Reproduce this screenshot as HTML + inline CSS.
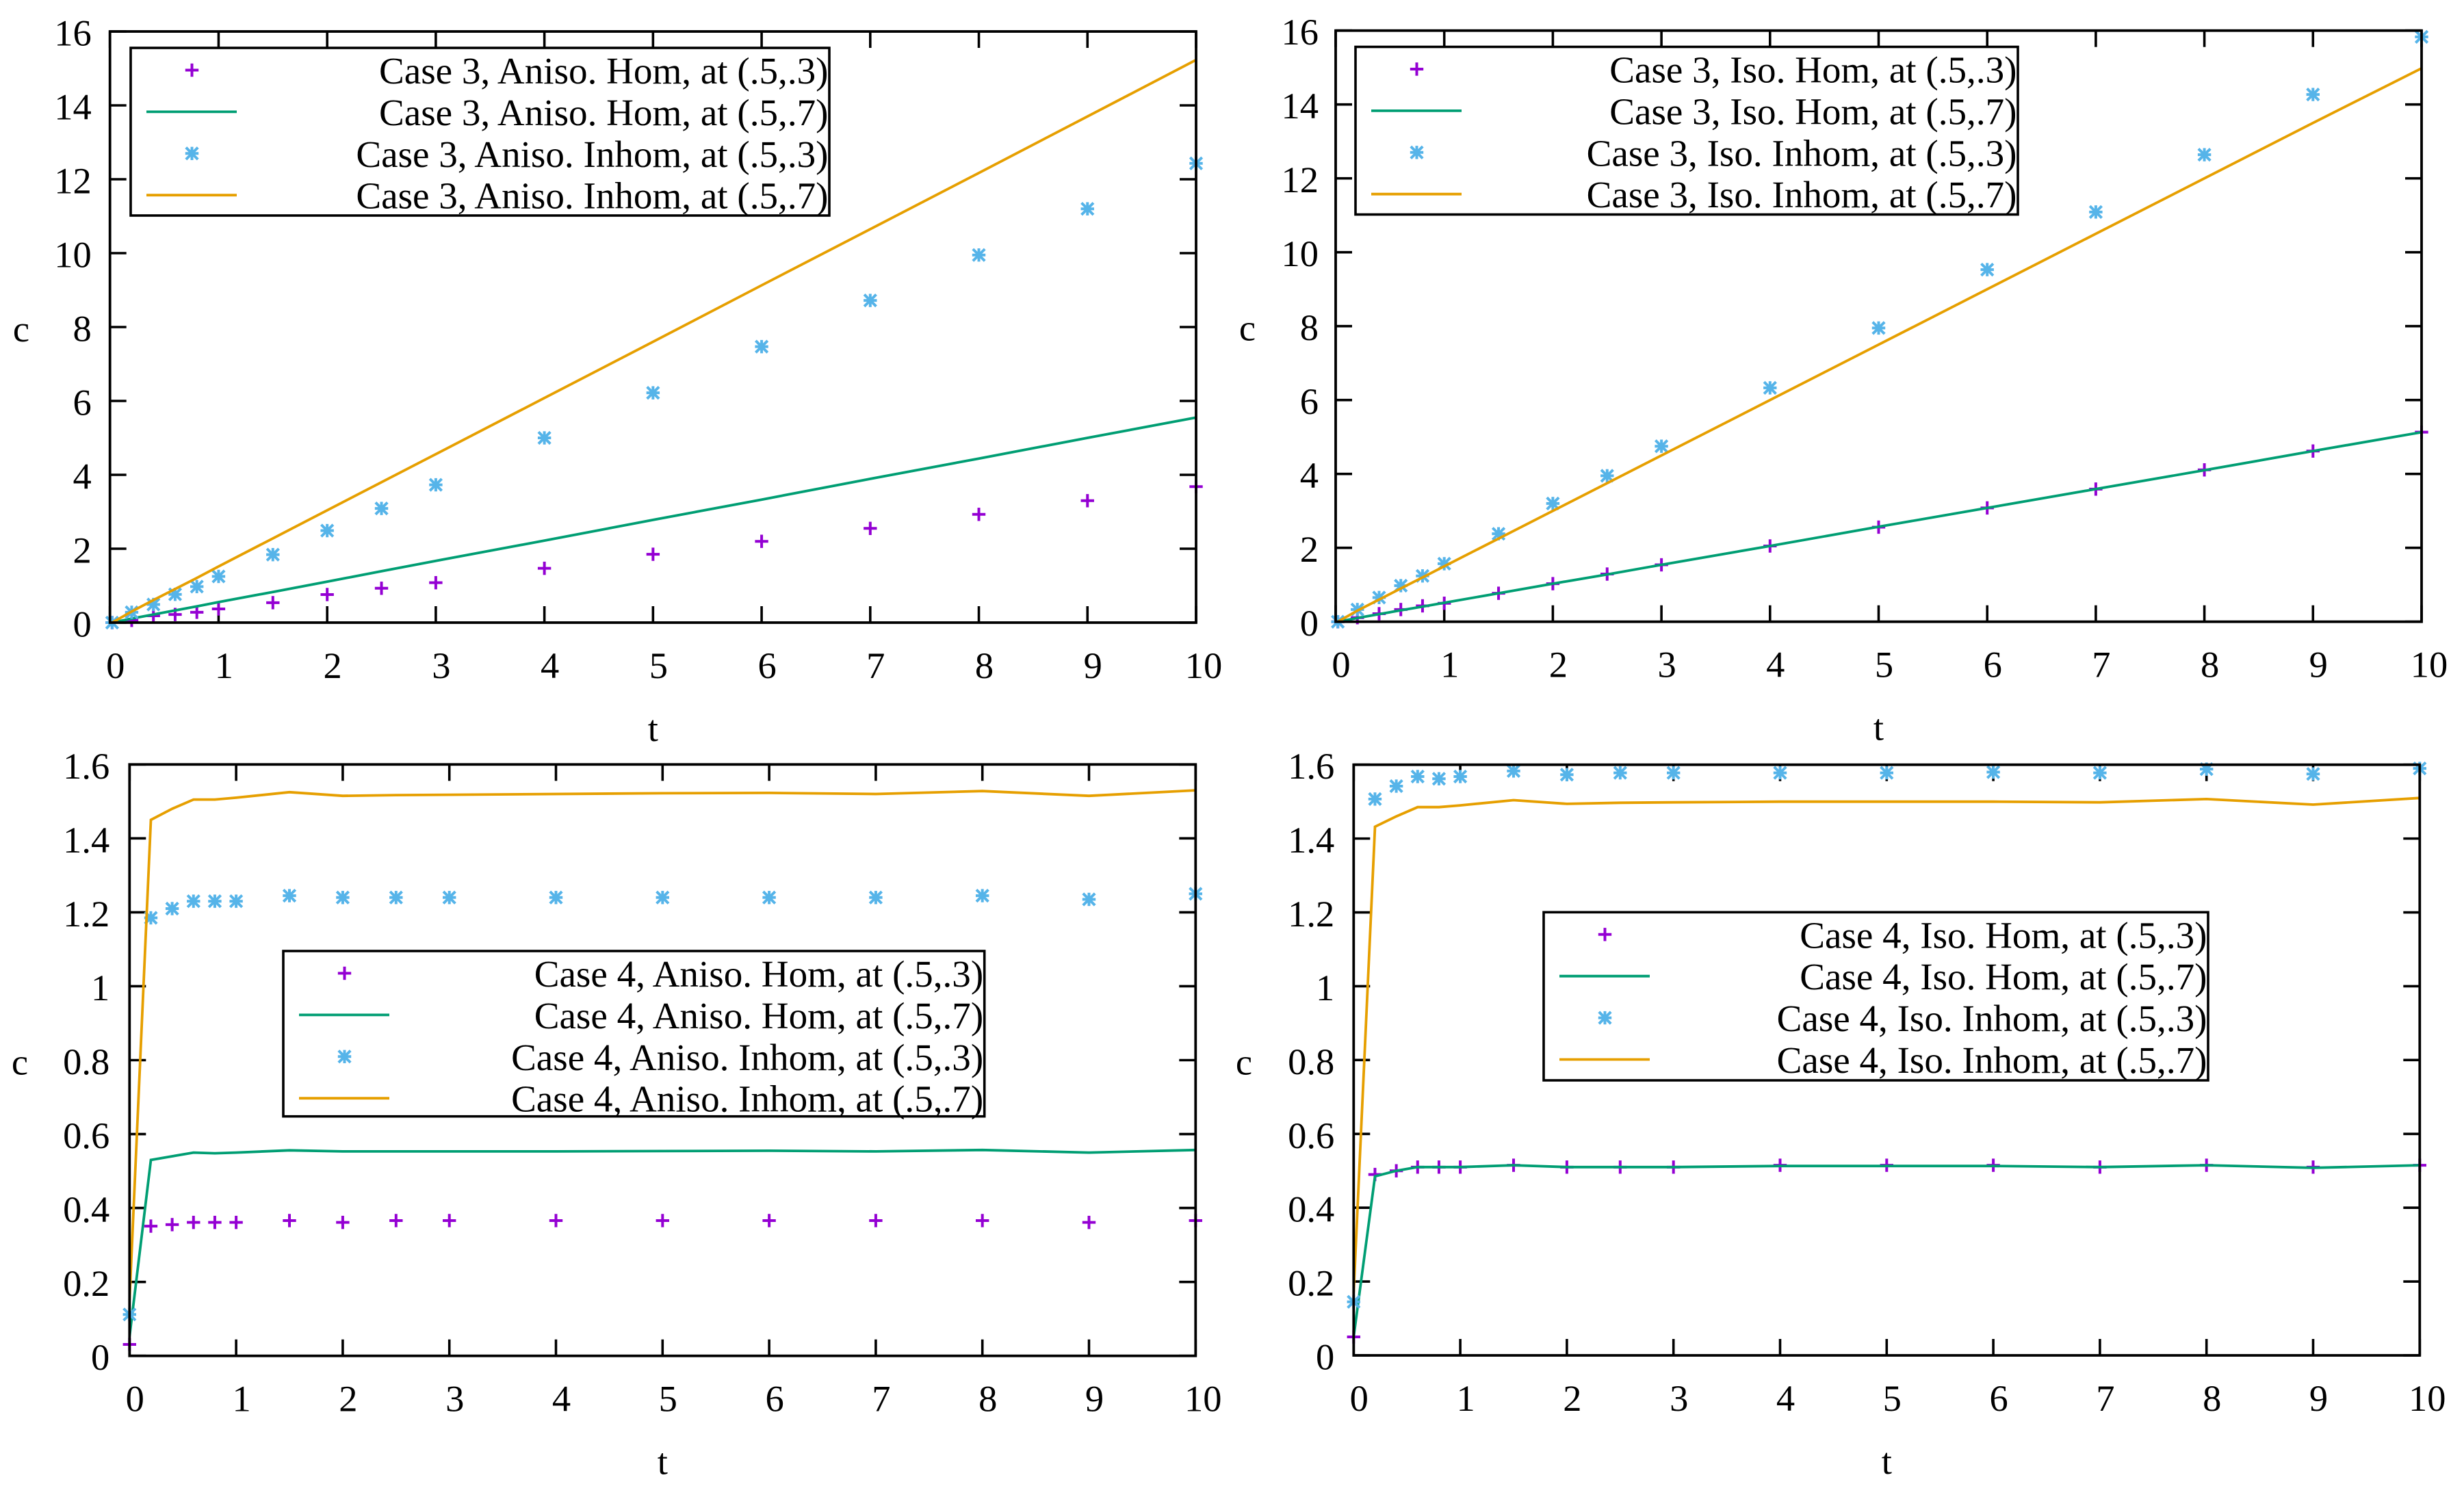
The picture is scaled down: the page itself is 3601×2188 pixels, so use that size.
<!DOCTYPE html>
<html lang="en">
<head>
<meta charset="utf-8">
<title>Case 3 and Case 4 concentration charts</title>
<style>
html,body{margin:0;padding:0;background:#fff;}
svg{display:block;}
text{font-family:"Liberation Serif","Times New Roman",serif;font-size:54.5px;fill:#000;}
text.legend-text{font-size:55.1px;}
</style>
</head>
<body>
<svg id="figure" xmlns="http://www.w3.org/2000/svg" width="3601" height="2188" viewBox="0 0 3601 2188"></svg>
<script>
// ---- shared data ----
const times = [0.02, 0.2, 0.4, 0.6, 0.8, 1, 1.5, 2, 2.5, 3, 4, 5, 6, 7, 8, 9, 10];
const timesCase4 = [0, 0.2, 0.4, 0.6, 0.8, 1, 1.5, 2, 2.5, 3, 4, 5, 6, 7, 8, 9, 10];
const xTickLabels = ['0', '1', '2', '3', '4', '5', '6', '7', '8', '9', '10'];
const yTicksCase3 = ['0', '2', '4', '6', '8', '10', '12', '14', '16'];
const yTicksCase4 = ['0', '0.2', '0.4', '0.6', '0.8', '1', '1.2', '1.4', '1.6'];

// ---- Case 3, Aniso ----
const aniso3HomPoints = [0, 0.06, 0.185, 0.22, 0.28, 0.37, 0.54, 0.76, 0.93, 1.08, 1.47, 1.85, 2.2, 2.55, 2.93, 3.3, 3.68];
const aniso3HomLine = [0, 0.11, 0.22, 0.33, 0.44, 0.555, 0.83, 1.11, 1.39, 1.67, 2.22, 2.78, 3.33, 3.89, 4.44, 5.0, 5.55];
const aniso3InhomPoints = [0, 0.28, 0.49, 0.765, 0.975, 1.25, 1.84, 2.49, 3.09, 3.73, 5.0, 6.22, 7.47, 8.72, 9.95, 11.2, 12.43];
const aniso3InhomLine = [0, 0.3, 0.61, 0.91, 1.21, 1.52, 2.28, 3.04, 3.8, 4.56, 6.08, 7.6, 9.13, 10.65, 12.17, 13.7, 15.23];
const aniso3Labels = ['Case 3, Aniso. Hom, at (.5,.3)', 'Case 3, Aniso. Hom, at (.5,.7)', 'Case 3, Aniso. Inhom, at (.5,.3)', 'Case 3, Aniso. Inhom, at (.5,.7)'];

// ---- Case 3, Iso ----
const iso3HomPoints = [0, 0.11, 0.217, 0.33, 0.43, 0.5, 0.77, 1.03, 1.29, 1.54, 2.05, 2.56, 3.08, 3.59, 4.11, 4.62, 5.13];
const iso3HomLine = [0, 0.1, 0.205, 0.31, 0.41, 0.513, 0.77, 1.03, 1.28, 1.54, 2.05, 2.57, 3.08, 3.59, 4.1, 4.62, 5.13];
const iso3InhomPoints = [0, 0.33, 0.655, 0.976, 1.24, 1.57, 2.38, 3.2, 3.95, 4.75, 6.33, 7.95, 9.53, 11.09, 12.64, 14.27, 15.83];
const iso3InhomLine = [0, 0.3, 0.6, 0.9, 1.2, 1.5, 2.25, 3.0, 3.75, 4.5, 6.0, 7.5, 9.0, 10.5, 12.0, 13.5, 14.98];
const iso3Labels = ['Case 3, Iso. Hom, at (.5,.3)', 'Case 3, Iso. Hom, at (.5,.7)', 'Case 3, Iso. Inhom, at (.5,.3)', 'Case 3, Iso. Inhom, at (.5,.7)'];

// ---- Case 4, Aniso ----
const aniso4HomPoints = [0.031, 0.351, 0.355, 0.361, 0.361, 0.361, 0.366, 0.361, 0.366, 0.366, 0.366, 0.366, 0.366, 0.366, 0.366, 0.361, 0.366];
const aniso4HomLine = [0.052, 0.53, 0.54, 0.55, 0.548, 0.55, 0.556, 0.553, 0.553, 0.553, 0.553, 0.554, 0.555, 0.553, 0.557, 0.55, 0.557];
const aniso4InhomPoints = [0.112, 1.185, 1.21, 1.23, 1.23, 1.23, 1.245, 1.24, 1.24, 1.24, 1.24, 1.24, 1.24, 1.24, 1.245, 1.235, 1.25];
const aniso4InhomLine = [0.151, 1.45, 1.48, 1.505, 1.505, 1.51, 1.525, 1.515, 1.517, 1.518, 1.52, 1.522, 1.523, 1.52, 1.528, 1.515, 1.53];
const aniso4Labels = ['Case 4, Aniso. Hom, at (.5,.3)', 'Case 4, Aniso. Hom, at (.5,.7)', 'Case 4, Aniso. Inhom, at (.5,.3)', 'Case 4, Aniso. Inhom, at (.5,.7)'];

// ---- Case 4, Iso ----
const iso4HomPoints = [0.05, 0.49, 0.5, 0.51, 0.51, 0.51, 0.515, 0.51, 0.51, 0.51, 0.515, 0.515, 0.515, 0.51, 0.515, 0.51, 0.515];
const iso4HomLine = [0.05, 0.485, 0.5, 0.51, 0.51, 0.51, 0.515, 0.51, 0.51, 0.51, 0.513, 0.513, 0.513, 0.51, 0.515, 0.508, 0.515];
const iso4InhomPoints = [0.145, 1.507, 1.542, 1.568, 1.562, 1.568, 1.583, 1.573, 1.578, 1.578, 1.578, 1.578, 1.58, 1.578, 1.588, 1.575, 1.59];
const iso4InhomLine = [0.17, 1.432, 1.46, 1.485, 1.485, 1.49, 1.504, 1.494, 1.497, 1.498, 1.5, 1.5, 1.5, 1.498, 1.507, 1.492, 1.51];
const iso4Labels = ['Case 4, Iso. Hom, at (.5,.3)', 'Case 4, Iso. Hom, at (.5,.7)', 'Case 4, Iso. Inhom, at (.5,.3)', 'Case 4, Iso. Inhom, at (.5,.7)'];

const PURPLE = '#9400d3', GREEN = '#009e73', BLUE = '#56b4e9', ORANGE = '#e69f00';
const NS = 'http://www.w3.org/2000/svg';
const figure = document.getElementById('figure');

function node(parent, tag, props) {
  const el = document.createElementNS(NS, tag);
  for (const k in props) el.setAttribute(k, props[k]);
  parent.appendChild(el);
  return el;
}

function drawPlus(parent, cx, cy, name) {
  const g = node(parent, 'g', {stroke: PURPLE, 'stroke-width': 4, fill: 'none'});
  
  
  node(g, 'line', {x1: cx - 9.7, y1: cy, x2: cx + 9.7, y2: cy});
  node(g, 'line', {x1: cx, y1: cy - 9.7, x2: cx, y2: cy + 9.7});
}

function drawStar(parent, cx, cy, name) {
  const g = node(parent, 'g', {stroke: BLUE, 'stroke-width': 4, fill: 'none'});
  
  
  node(g, 'line', {x1: cx - 9.7, y1: cy, x2: cx + 9.7, y2: cy});
  node(g, 'line', {x1: cx, y1: cy - 9.7, x2: cx, y2: cy + 9.7});
  node(g, 'line', {x1: cx - 8.7, y1: cy - 8.7, x2: cx + 8.7, y2: cy + 8.7});
  node(g, 'line', {x1: cx - 8.7, y1: cy + 8.7, x2: cx + 8.7, y2: cy - 8.7});
}

function drawLine(parent, xs, ys, xScale, yScale, color, name) {
  const pts = xs.map((t, i) => xScale(t).toFixed(1) + ',' + yScale(ys[i]).toFixed(1)).join(' ');
  const line = node(parent, 'polyline', {points: pts, fill: 'none', stroke: color, 'stroke-width': 3.8, 'stroke-linejoin': 'miter'});
  
  
}

function label(parent, x, y, str, anchor, name) {
  const t = node(parent, 'text', {x: x, y: y, 'text-anchor': anchor});
  t.textContent = str;
  
  
  return t;
}

function drawPanel(c) {
  const g = node(figure, 'g', {});
  
  

  const xScale = t => c.left + (t - 0) / 10 * (c.right - c.left);
  const yScale = v => c.bottom - v / c.yMax * (c.bottom - c.top);

  // ticks
  const ticks = node(g, 'g', {stroke: '#000', 'stroke-width': 3.6});
  
  
  xTickLabels.forEach(s => {
    const x = xScale(Number(s));
    node(ticks, 'line', {x1: x, y1: c.bottom, x2: x, y2: c.bottom - 24});
    node(ticks, 'line', {x1: x, y1: c.top, x2: x, y2: c.top + 24});
    label(g, x + (s === '10' ? 11 : 8), c.bottom + 81, s, 'middle', 'x-tick-label');
  });
  c.yLabels.forEach((s, i) => {
    const y = yScale(i / (c.yLabels.length - 1) * c.yMax);
    node(ticks, 'line', {x1: c.left, y1: y, x2: c.left + 24, y2: y});
    node(ticks, 'line', {x1: c.right, y1: y, x2: c.right - 24, y2: y});
    label(g, c.left - c.yPad, y + 20.5, s, 'end', 'y-tick-label');
  });

  // series
  const xs = c.times;
  c.homPoints.forEach((v, i) => drawPlus(g, xScale(xs[i]), yScale(v), 'hom-point-03'));
  drawLine(g, xs, c.homLine, xScale, yScale, GREEN, 'hom-line-07');
  c.inhomPoints.forEach((v, i) => drawStar(g, xScale(xs[i]), yScale(v), 'inhom-point-03'));
  drawLine(g, xs, c.inhomLine, xScale, yScale, ORANGE, 'inhom-line-07');

  // border
  const border = node(g, 'rect', {x: c.left, y: c.top, width: c.right - c.left, height: c.bottom - c.top, fill: 'none', stroke: '#000', 'stroke-width': 3.8});
  
  

  // axis titles
  label(g, (c.left + c.right) / 2, c.bottom + 173, 't', 'middle', 'x-axis-title');
  label(g, c.yTitleX, (c.top + c.bottom) / 2 + 21, 'c', 'middle', 'y-axis-title');

  // legend
  const L = c.legend;
  const lg = node(g, 'g', {});
  
  
  const box = node(lg, 'rect', {x: L.x, y: L.y, width: L.w, height: L.h, fill: '#fff', stroke: '#000', 'stroke-width': 3.6});
  
  
  const keyMid = L.x + 89.5;
  c.labels.forEach((s, i) => {
    const base = L.y + 52 + 60.9 * i;
    const ky = base - 19.5;
    if (i === 0) drawPlus(lg, keyMid, ky, 'legend-key-plus');
    if (i === 2) drawStar(lg, keyMid, ky, 'legend-key-star');
    if (i === 1 || i === 3) {
      const k = node(lg, 'line', {x1: L.x + 23, y1: ky, x2: L.x + 155, y2: ky, stroke: i === 1 ? GREEN : ORANGE, 'stroke-width': 3.8});
      
      
    }
    const entry = label(lg, L.x + L.w - 1.5, base, s, 'end', 'legend-entry');
    entry.setAttribute('class', 'legend-text');
  });
}

drawPanel({
  name: 'panel-case3-aniso', left: 160.7, right: 1748, top: 46, bottom: 910, yMax: 16, yPad: 27, yTitleX: 31,
  yLabels: yTicksCase3, times: times, labels: aniso3Labels,
  homPoints: aniso3HomPoints, homLine: aniso3HomLine, inhomPoints: aniso3InhomPoints, inhomLine: aniso3InhomLine,
  legend: {x: 191, y: 70, w: 1021, h: 245}
});
drawPanel({
  name: 'panel-case3-iso', left: 1952, right: 3539, top: 44.7, bottom: 908.7, yMax: 16, yPad: 25, yTitleX: 1823,
  yLabels: yTicksCase3, times: times, labels: iso3Labels,
  homPoints: iso3HomPoints, homLine: iso3HomLine, inhomPoints: iso3InhomPoints, inhomLine: iso3InhomLine,
  legend: {x: 1981, y: 68.5, w: 968, h: 245}
});
drawPanel({
  name: 'panel-case4-aniso', left: 189.3, right: 1747.3, top: 1117.3, bottom: 1981.7, yMax: 1.6, yPad: 29, yTitleX: 29,
  yLabels: yTicksCase4, times: timesCase4, labels: aniso4Labels,
  homPoints: aniso4HomPoints, homLine: aniso4HomLine, inhomPoints: aniso4InhomPoints, inhomLine: aniso4InhomLine,
  legend: {x: 414, y: 1390, w: 1024.7, h: 241.7}
});
drawPanel({
  name: 'panel-case4-iso', left: 1978.3, right: 3536.3, top: 1117.7, bottom: 1981, yMax: 1.6, yPad: 28, yTitleX: 1818,
  yLabels: yTicksCase4, times: timesCase4, labels: iso4Labels,
  homPoints: iso4HomPoints, homLine: iso4HomLine, inhomPoints: iso4InhomPoints, inhomLine: iso4InhomLine,
  legend: {x: 2256, y: 1333.3, w: 971, h: 245.7}
});
</script>
</body>
</html>
